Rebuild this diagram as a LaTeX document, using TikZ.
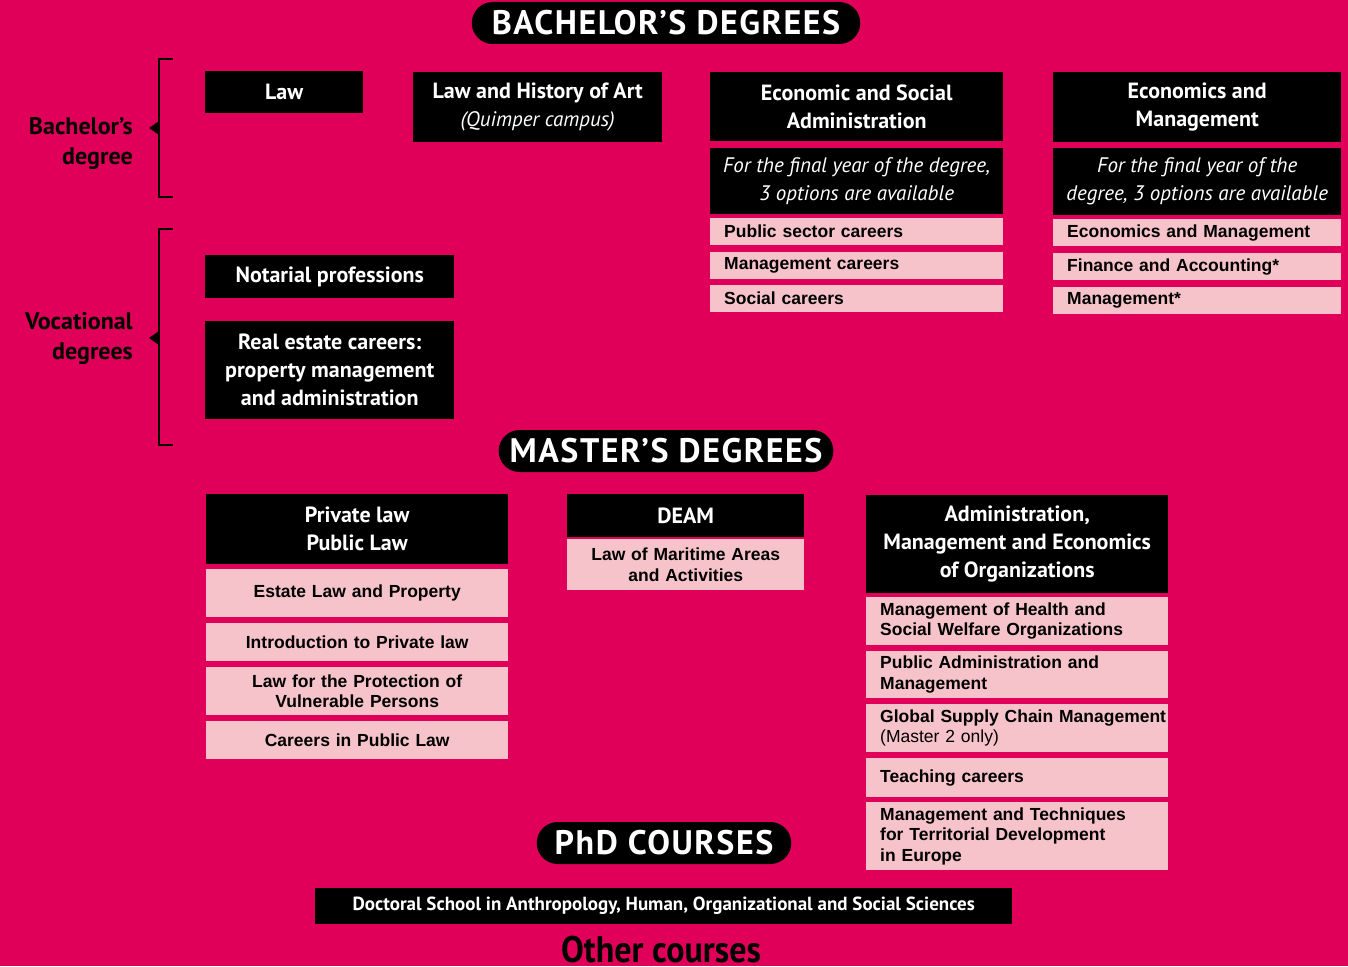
\documentclass[tikz,border=0pt]{standalone}
\usepackage{fontspec}
\setmainfont{PT Sans}
\newfontfamily\pinkfont{Liberation Sans}
\newfontfamily\narrowfont[FakeStretch=0.92]{PT Sans}
\newfontfamily\pillfont[LetterSpace=4.5]{PT Sans}
\definecolor{bg}{HTML}{E0005A}
\definecolor{pk}{HTML}{F7C3CA}
\tikzset{
  blk/.style={fill=black, text=white, inner sep=0pt, anchor=north west, align=center,
    font=\fontsize{22}{28}\selectfont\bfseries},
  ital/.style={blk, font=\fontsize{21}{28}\selectfont\itshape},
  pnk/.style={fill=pk, text=black, inner xsep=14pt, inner ysep=0pt, anchor=north west, align=left,
    font=\pinkfont\bfseries\fontsize{17.5}{20.5}\selectfont},
  pnkc/.style={pnk, align=center},
  pill/.style={fill=black, text=white, rounded corners=21pt, inner xsep=20pt, inner ysep=0pt,
    minimum height=42pt, font=\pillfont\fontsize{34}{36}\selectfont\bfseries},
  lbl/.style={text=black, align=right, anchor=east, inner sep=0pt, font=\fontsize{24}{30}\selectfont\bfseries},
  brk/.style={line width=2pt, black},
}
\begin{document}
\begin{tikzpicture}[x=1pt,y=-1pt]
\useasboundingbox (0,0) rectangle (1348,966);
\fill[bg] (0,0) rectangle (1348,966);

% titles
\node[pill] (bach) at (666,23) {BACHELOR’S DEGREES};
\node[pill, inner xsep=11pt] (mast) at (666,451) {MASTER’S DEGREES};
\node[pill, inner xsep=18pt] (phd) at (664,843) {PhD COURSES};

% brackets
\draw[brk] (173,59) -- (159,59) -- (159,197) -- (173,197);
\fill (149,128) -- (159,121) -- (159,135) -- cycle;
\node[lbl] (lb1) at (133,144) {Bachelor’s\\degree};
\draw[brk] (173,229) -- (159,229) -- (159,445) -- (173,445);
\fill (149,338) -- (159,331) -- (159,345) -- cycle;
\node[lbl] (lb2) at (133,339) {Vocational\\degrees};

% bachelor
\node[blk, minimum width=158pt, minimum height=42pt] (law) at (205,71) {Law};
\node[blk, minimum width=249pt, minimum height=70pt] (lha) at (413,72) {Law and History of Art\\{\mdseries\itshape\fontsize{21}{28}\selectfont(Quimper campus)}};

\node[blk, minimum width=293pt, minimum height=69pt] (esa) at (710,72) {Economic and Social\\Administration};
\node[ital, minimum width=293pt, minimum height=66pt] (esai) at (710,148) {For the final year of the degree,\\3 options are available};
\node[pnk, text width=265pt, minimum height=27pt] (esa1) at (710,218) {Public sector careers};
\node[pnk, text width=265pt, minimum height=27pt] (esa2) at (710,252) {Management careers};
\node[pnk, text width=265pt, minimum height=27pt] (esa3) at (710,285) {Social careers};

\node[blk, minimum width=288pt, minimum height=70pt] (em) at (1053,72) {Economics and\\Management};
\node[ital, minimum width=288pt, minimum height=67pt] (emi) at (1053,148) {For the final year of the\\degree, 3 options are available};
\node[pnk, text width=260pt, minimum height=27pt] (em1) at (1053,219) {Economics and Management};
\node[pnk, text width=260pt, minimum height=27pt] (em2) at (1053,253) {Finance and Accounting*};
\node[pnk, text width=260pt, minimum height=27pt] (em3) at (1053,287) {Management*};

% vocational
\node[blk, minimum width=249pt, minimum height=43pt] (notar) at (205,255) {Notarial professions};
\node[blk, minimum width=249pt, minimum height=98pt] (real) at (205,321) {Real estate careers:\\property management\\and administration};

% masters
\node[blk, minimum width=302pt, minimum height=70pt] (priv) at (206,494) {Private law\\Public Law};
\node[pnkc, text width=274pt, minimum height=48pt] (p1) at (206,569) {Estate Law and Property};
\node[pnkc, text width=274pt, minimum height=38pt] (p2) at (206,623) {Introduction to Private law};
\node[pnkc, text width=274pt, minimum height=48pt] (p3) at (206,667) {Law for the Protection of\\Vulnerable Persons};
\node[pnkc, text width=274pt, minimum height=38pt] (p4) at (206,721) {Careers in Public Law};

\node[blk, minimum width=237pt, minimum height=43pt] (deam) at (567,494) {DEAM};
\node[pnkc, text width=209pt, minimum height=51pt] (d1) at (567,539) {Law of Maritime Areas\\and Activities};

\node[blk, minimum width=302pt, minimum height=98pt] (adm) at (866,495) {Administration,\\Management and Economics\\of Organizations};
\node[pnk, text width=274pt, minimum height=48pt] (a1) at (866,597) {Management of Health and\\Social Welfare Organizations};
\node[pnk, text width=274pt, minimum height=47pt] (a2) at (866,651) {Public Administration and\\Management};
\node[pnk, text width=274pt, minimum height=48pt] (a3) at (866,704) {\mbox{Global Supply Chain Management}\\{\mdseries (Master 2 only)}};
\node[pnk, text width=274pt, minimum height=39pt] (a4) at (866,758) {Teaching careers};
\node[pnk, text width=274pt, minimum height=68pt] (a5) at (866,802) {Management and Techniques\\for Territorial Development\\in Europe};

% phd
\node[blk, minimum width=697pt, minimum height=36pt, font=\fontsize{19}{22}\selectfont\bfseries] (doc) at (315,888) {Doctoral School in Anthropology, Human, Organizational and Social Sciences};
\node[text=black, inner sep=0pt, font=\narrowfont\bfseries\fontsize{37}{40}\selectfont] (other) at (661,950) {Other courses};
\end{tikzpicture}
\end{document}
